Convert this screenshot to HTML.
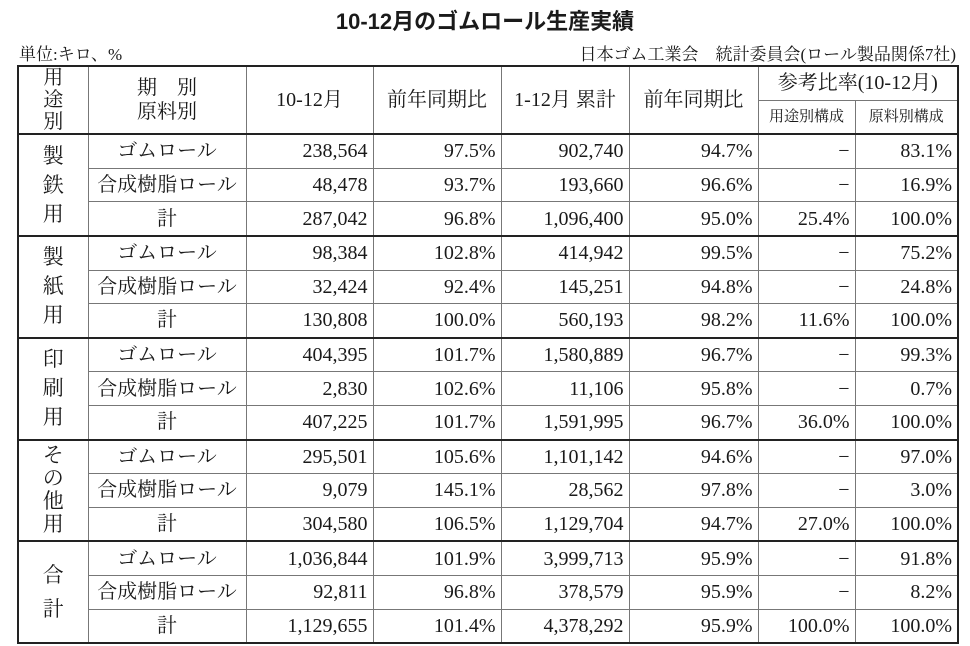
<!DOCTYPE html>
<html><head><meta charset="utf-8">
<style>
body{margin:0;width:970px;height:646px;background:#fff;overflow:hidden;position:relative;font-family:"Liberation Serif","Noto Serif CJK JP",serif;color:#1a1a1a}
#title{position:absolute;top:4px;left:0;width:970px;text-align:center;font-family:"Liberation Sans","Noto Sans CJK JP",sans-serif;font-size:22px;font-weight:bold}
#unit{position:absolute;top:40px;left:19px;font-size:17px}
#org{position:absolute;top:40px;right:14px;font-size:17px}
table{position:absolute;left:17px;top:65px;border-collapse:collapse;table-layout:fixed;width:940px}
td{border:1px solid #777;padding:0 5px;font-size:20px;text-align:right;white-space:nowrap;overflow:hidden;height:32.6px;line-height:20px}
td.c{text-align:center}
td.g{text-align:center;line-height:30px;font-size:21px;padding:0}
tr.top td{border-top:2px solid #222}
.outer{border:2px solid #222}
.h td{text-align:center}
td.s{font-size:15px}
</style></head><body>
<div id="title">10-12月のゴムロール生産実績</div>
<div id="unit">単位:キロ、%</div>
<div id="org">日本ゴム工業会　統計委員会(ロール製品関係7社)</div>
<table class="outer">
<colgroup><col style="width:70px"><col style="width:158px"><col style="width:127px"><col style="width:128px"><col style="width:128px"><col style="width:129px"><col style="width:97px"><col style="width:103px"></colgroup>
<tr class="h"><td rowspan="2" class="g" style="line-height:22px;font-size:20px">用<br>途<br>別</td><td rowspan="2" style="line-height:24px">期　別<br>原料別</td><td rowspan="2">10-12月</td><td rowspan="2">前年同期比</td><td rowspan="2">1-12月 累計</td><td rowspan="2">前年同期比</td><td colspan="2" style="height:32.6px">参考比率(10-12月)</td></tr>
<tr class="h"><td class="s" style="height:32.6px">用途別構成</td><td class="s">原料別構成</td></tr>
<tbody id="body"></tbody>
</table>
<script>
const groups=["製鉄用","製紙用","印刷用","その他用","合計"];
const materials=["ゴムロール","合成樹脂ロール","計"];
const q4=[["238,564","48,478","287,042"],["98,384","32,424","130,808"],["404,395","2,830","407,225"],["295,501","9,079","304,580"],["1,036,844","92,811","1,129,655"]];
const q4yoy=[["97.5%","93.7%","96.8%"],["102.8%","92.4%","100.0%"],["101.7%","102.6%","101.7%"],["105.6%","145.1%","106.5%"],["101.9%","96.8%","101.4%"]];
const ytd=[["902,740","193,660","1,096,400"],["414,942","145,251","560,193"],["1,580,889","11,106","1,591,995"],["1,101,142","28,562","1,129,704"],["3,999,713","378,579","4,378,292"]];
const ytdyoy=[["94.7%","96.6%","95.0%"],["99.5%","94.8%","98.2%"],["96.7%","95.8%","96.7%"],["94.6%","97.8%","94.7%"],["95.9%","95.9%","95.9%"]];
const useShare=[["−","−","25.4%"],["−","−","11.6%"],["−","−","36.0%"],["−","−","27.0%"],["−","−","100.0%"]];
const matShare=[["83.1%","16.9%","100.0%"],["75.2%","24.8%","100.0%"],["99.3%","0.7%","100.0%"],["97.0%","3.0%","100.0%"],["91.8%","8.2%","100.0%"]];
const body=document.getElementById('body');
groups.forEach((g,gi)=>{
  materials.forEach((m,mi)=>{
    const tr=document.createElement('tr');
    
    
    if(mi===0)tr.className='top';
    let h='';
    if(mi===0){
      const chars=g.split('');
      const lh=chars.length>3?23:(chars.length===2?34:29);
      h+='<td rowspan="3" class="g" style="line-height:'+lh+'px">'+chars.join('<br>')+'</td>';
    }
    h+='<td class="c">'+m+'</td><td>'+q4[gi][mi]+'</td><td>'+q4yoy[gi][mi]+'</td><td>'+ytd[gi][mi]+'</td><td>'+ytdyoy[gi][mi]+'</td><td>'+useShare[gi][mi]+'</td><td>'+matShare[gi][mi]+'</td>';
    tr.innerHTML=h;
    body.appendChild(tr);
  });
});
</script>
</body></html>
